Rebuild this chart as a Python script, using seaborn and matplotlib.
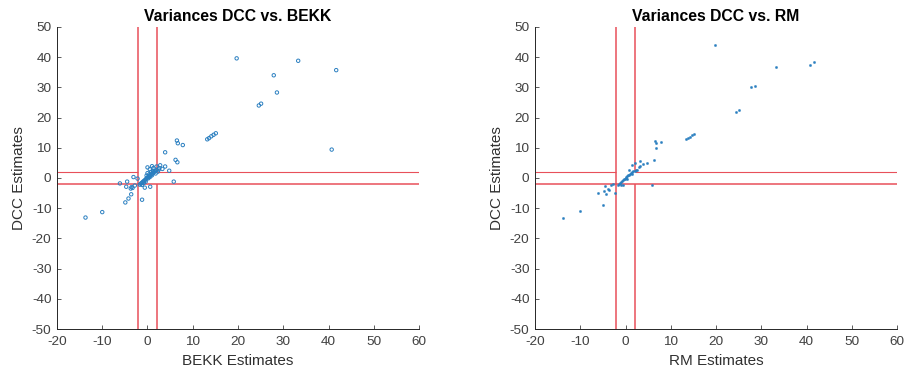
import numpy as np
import pandas as pd
import matplotlib
matplotlib.use("Agg")
import matplotlib.pyplot as plt
import seaborn as sns

# DCC vs BEKK variance estimates
bekk_x = [-13.7, -10.0, -4.9, -4.2, -3.6, -1.2, -6.1, -4.5, -4.7, -3.7, -3.1, -2.2,
          -2.8, 0.6, -0.6, 5.8, 4.8, 3.9, 6.2, 6.6, 6.5, 6.7, 7.8, 13.2, 13.6, 14.1,
          14.6, 15.1, 19.7, 24.6, 25.1, 27.9, 28.6, 33.3, 41.7, 40.7, 3.9, 2.8, 2.0,
          1.3, 0.0, 0.0, 3.3, 2.5, -3.3, -3.5,
          -1.7, -1.5, -1.3, -1.1, -0.9, -0.7, -0.5, -0.3, -0.1, 0.1, 0.3, 0.5, 0.7,
          0.9, 1.1, 1.3, 1.5, 1.7, 2.0, 0.2, 0.6, 1.0, -0.8, -1.2, 0.4, 1.2, -0.4,
          2.3, 1.8, 2.6, -0.2, 0.8, 0.5, 1.0]
bekk_dcc = [-13.1, -11.3, -8.1, -6.8, -5.4, -7.2, -1.8, -1.2, -2.9, -3.5, 0.3, -0.2,
            -2.5, -2.9, -3.2, -1.2, 2.4, 8.5, 6.0, 5.2, 12.4, 11.5, 10.9, 12.8, 13.2, 13.8,
            14.3, 14.8, 39.6, 24.0, 24.6, 34.0, 28.3, 38.8, 35.7, 9.4, 3.8, 4.2, 3.8,
            3.3, 3.5, 1.6, 3.0, 2.8, -3.3, -3.0,
            -2.2, -1.9, -1.7, -1.4, -1.1, -0.9, -0.6, -0.3, 0.0, 0.3, 0.5, 0.8, 1.0,
            1.3, 1.5, 1.8, 2.0, 2.3, 2.6, -0.1, 0.4, 0.9, -1.6, -2.3, 1.2, 2.4, -1.2,
            2.1, 1.5, 3.3, 0.8, 2.0, 2.9, 3.9]

# DCC vs RM variance estimates
rm_x = [-13.8, -10.0, -4.9, -6.0, -4.2, -4.8, -4.5, -3.8, -3.1, -2.3, 5.8, 6.2, 6.7,
        6.5, 6.8, 7.9, 13.4, 13.8, 14.2, 14.7, 15.1, 19.7, 24.5, 25.0, 27.8, 28.6,
        33.2, 40.7, 41.6, 4.8, 3.9, 3.2, 2.9, 2.1, 1.4, 0.8, 3.3, -3.6, -2.7,
        -1.6, -1.4, -1.2, -1.0, -0.8, -0.6, -0.4, -0.2, 0.0, 0.2, 0.4, 0.6, 0.8,
        1.0, 1.2, 1.4, 1.7, 2.0, 2.3, 2.5, -0.9, -0.5, 0.3, 1.5]
rm_dcc = [-13.1, -11.0, -8.9, -4.9, -5.2, -4.2, -2.8, -3.7, -2.3, -5.0, -2.3, 5.9, 9.9,
          12.3, 11.5, 11.9, 12.9, 13.3, 13.7, 14.1, 14.4, 44.1, 22.0, 22.6, 30.0, 30.6,
          36.7, 37.5, 38.5, 4.9, 4.6, 5.5, 3.8, 4.9, 4.4, 2.7, 4.1, -3.9, -2.0,
          -2.2, -1.9, -1.6, -1.3, -1.0, -0.8, -0.5, -0.2, 0.1, 0.3, 0.6, 0.9, 1.1,
          1.4, 1.6, 1.9, 2.2, 2.4, 2.6, 2.7, -2.4, -2.2, -0.2, 1.4]

threshold = 2
xlim = (-20, 60)
ylim = (-50, 50)
xticks = list(range(-20, 61, 10))
yticks = list(range(-50, 51, 10))

blue = "#2a7fc0"
red = "#e8505a"

sns.set_style("white")
plt.rcParams["font.family"] = ["Liberation Sans", "DejaVu Sans"]
plt.rcParams["axes.unicode_minus"] = False

fig = plt.figure(figsize=(9.06, 3.79), dpi=100)
ax1 = fig.add_axes([0.0629, 0.1319, 0.3996, 0.797])
ax2 = fig.add_axes([0.5905, 0.1319, 0.3996, 0.797])


def draw_thresholds(ax):
    t = threshold
    ax.vlines(-t, ylim[0], ylim[1], color=red, lw=1.1, zorder=1)
    ax.hlines(-t, xlim[0], xlim[1], color=red, lw=1.1, zorder=1)
    ax.vlines([t, t], [ylim[0], t], [-t, ylim[1]], color=red, lw=1.1, zorder=1)
    ax.hlines([t, t], [xlim[0], t], [-t, xlim[1]], color=red, lw=0.8, zorder=1)


def style(ax, title, xlabel):
    ax.set_xlim(xlim)
    ax.set_ylim(ylim)
    ax.set_xticks(xticks)
    ax.set_yticks(yticks)
    ax.set_title(title, fontsize=11.3, fontweight="bold", color="black", pad=4)
    ax.set_xlabel(xlabel, fontsize=11, color="#303030", labelpad=4)
    ax.set_ylabel("DCC Estimates", fontsize=11, color="#303030", labelpad=4)
    ax.tick_params(direction="in", length=3, width=0.6, labelsize=9.7,
                   colors="#404040", bottom=True, left=True)
    ax.tick_params(axis="x", pad=5)
    ax.tick_params(axis="y", pad=4)
    sns.despine(ax=ax)
    for s in ("left", "bottom"):
        ax.spines[s].set_color("#262626")
        ax.spines[s].set_linewidth(0.7)
    ax.grid(False)


df1 = pd.DataFrame({"BEKK": bekk_x, "DCC": bekk_dcc})
df2 = pd.DataFrame({"RM": rm_x, "DCC": rm_dcc})

draw_thresholds(ax1)
sns.scatterplot(data=df1, x="BEKK", y="DCC", ax=ax1, marker="o", s=6,
                facecolor="none", edgecolor=blue, linewidth=0.7, zorder=2)
style(ax1, "Variances DCC vs. BEKK", "BEKK Estimates")

draw_thresholds(ax2)
sns.scatterplot(data=df2, x="RM", y="DCC", ax=ax2, marker="o", s=3,
                color=blue, edgecolor=blue, linewidth=0.2, zorder=2)
style(ax2, "Variances DCC vs. RM", "RM Estimates")

fig.savefig("out.png", dpi=100)
